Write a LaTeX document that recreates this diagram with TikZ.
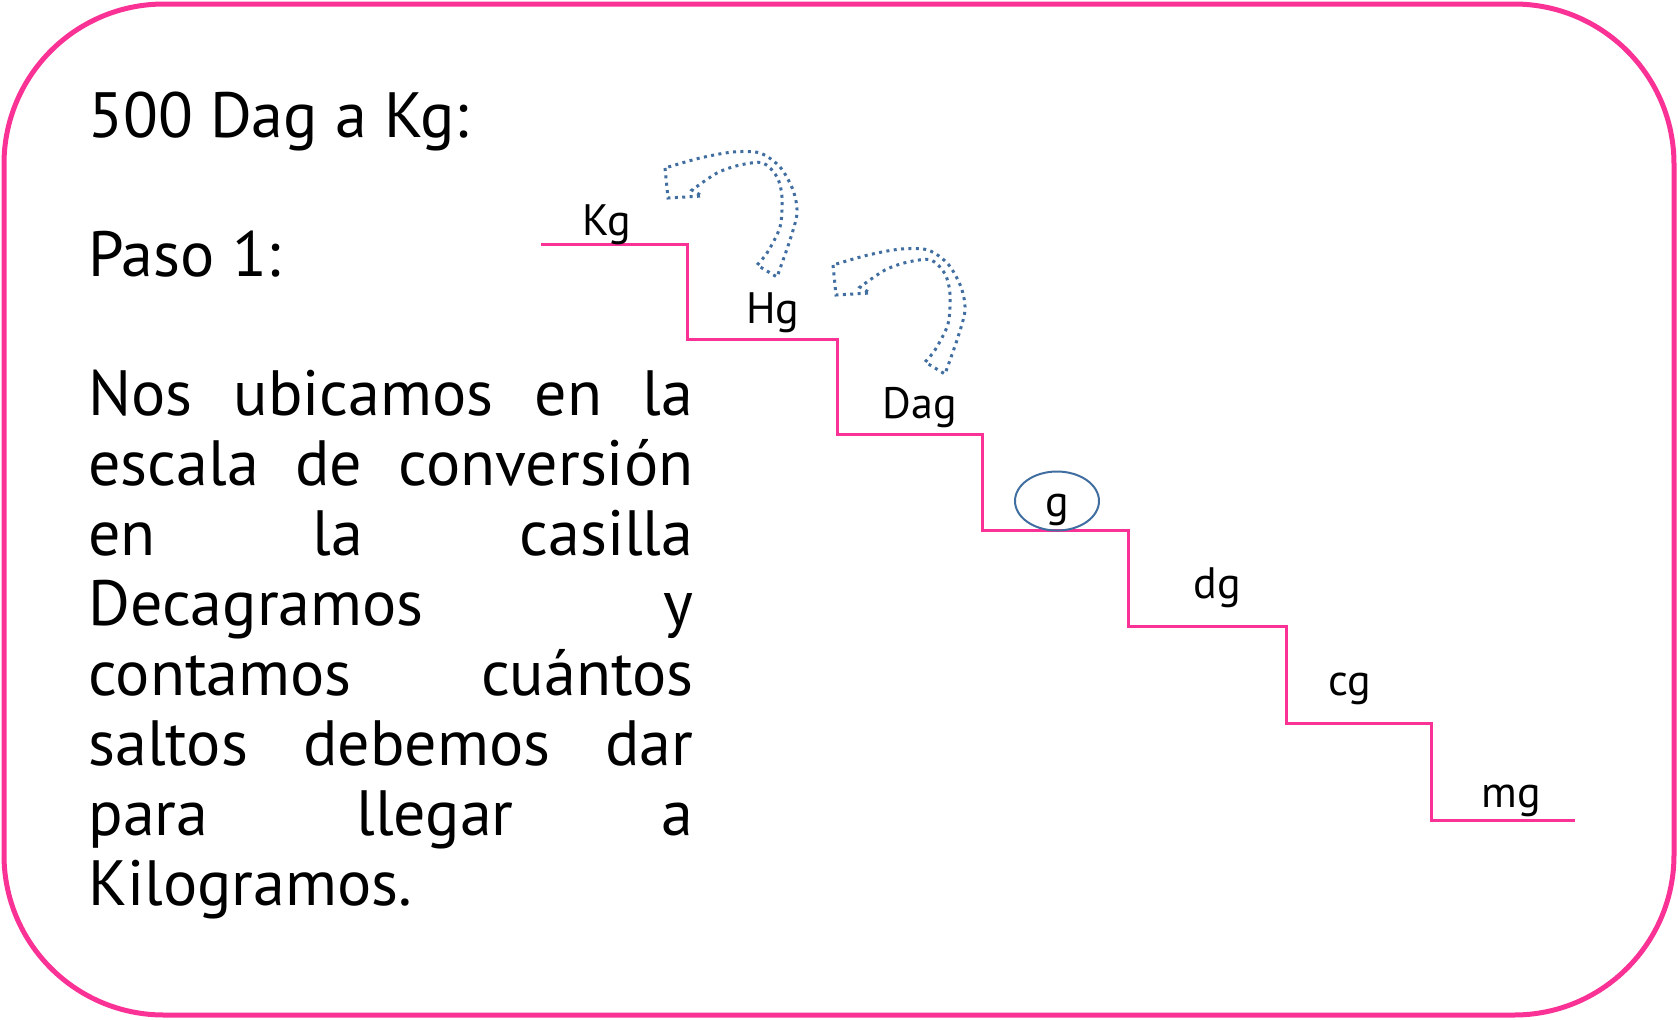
\documentclass[tikz,border=0pt]{standalone}
\usepackage{fontspec}
\setmainfont{PT Sans}
\definecolor{rosa}{RGB}{250,50,150}
\definecolor{azul}{RGB}{65,110,160}

\begin{document}
\begin{tikzpicture}[x=0.5pt,y=-0.5pt,
  every node/.style={inner sep=0pt},
  titulo/.style={anchor=base west,font=\fontsize{32}{35}\selectfont},
  renglon/.style={anchor=base west,font=\fontsize{32}{35}\selectfont},
  unidad/.style={anchor=base,font=\fontsize{22}{24}\selectfont},
  escalon/.style={draw=rosa,line width=1.5pt},
  salto/.style={draw=azul,line width=1.5pt,dash pattern=on 1.5pt off 2.2pt},
  circulo/.style={draw=azul,line width=1pt}]
  \useasboundingbox (0,0) rectangle (1678,1019);
  \draw[rosa,line width=2.5pt,rounded corners=80pt] (4,4) rectangle (1674,1015);

  % texto de la izquierda
  \node[titulo] (tit) at (88,137) {500 Dag a Kg:};
  \node[titulo] (paso) at (88,276) {Paso 1:};
  \foreach \txt [count=\i] in {Nos ubicamos en la,escala de conversión,en la casilla,Decagramos y,contamos cuántos,saltos debemos dar,para llegar a}
    \node[renglon] (r\i) at (88,345+70*\i) {\makebox[302.5pt][s]{\txt}};
  \node[renglon] (r8) at (88,905) {Kilogramos.};

  % escalera de unidades
  \draw[escalon] (541,244) -| (687,339) -| (837,434) -| (982,530) -| (1128,626)
    -| (1286,723) -| (1431,820) -- (1575,820);
  \foreach \u/\x/\y in {Kg/607/235,Hg/773/323,Dag/920/418,g/1057/516,dg/1217/598,cg/1350/695,mg/1511/807}
    \node[unidad] (\u) at (\x,\y) {\u};
  \draw[circulo] (1057,501) ellipse [x radius=42,y radius=29.5];

  % saltos
  \foreach \dx/\dy in {0/0,168/97}{
  \begin{scope}[shift={(\dx,\dy)}]
    \draw[salto] (665,168) -- (668,198) -- (702,196) -- plot[smooth] coordinates {(692,190) (717,173) (740,165) (763,163) (777,177) (782,197) (780,227) (767,253) (757,265)}
      -- plot[smooth] coordinates {(777,277) (790,240) (797,213) (793,190) (780,167) (760,153) (733,152) (700,158) (665,168)} -- cycle;
  \end{scope}}
\end{tikzpicture}
\end{document}
